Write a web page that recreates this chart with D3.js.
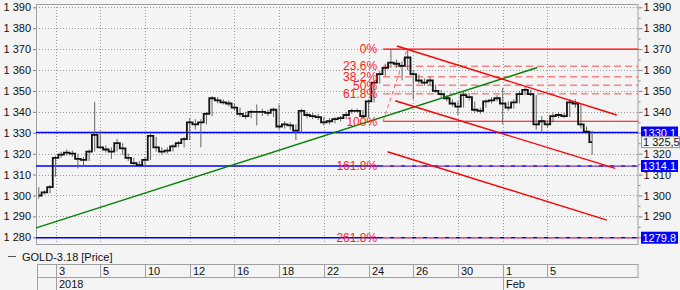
<!DOCTYPE html>
<html><head><meta charset="utf-8">
<script src="https://cdn.jsdelivr.net/npm/d3@7/dist/d3.min.js"></script>
<style>
html,body{margin:0;padding:0;background:#f4f4f4;}
svg{display:block;font-family:"Liberation Sans",Arial,sans-serif;}
</style></head><body>
<div id="chart"></div>
<script>
// ---- data ----
const closes = [1300,1301.5,1304,1318,1319.5,1320.5,1320,1317.5,1317,1321,
 1329,1323,1322,1321,1325,1322.5,1318,1315.5,1314.5,1317,
 1328.5,1323,1321,1321.5,1323.5,1325,1327,1335,1334,1335,
 1339,1346.5,1345.5,1344.5,1344,1342,1339,1338,1340,1340,
 1340,1339.5,1341,1333,1334,1333.5,1331,1340.5,1338.5,1338,
 1337.5,1335,1335.5,1336.5,1337,1338.5,1340.5,1340.5,1338,1345,
 1354,1358,1361,1363.5,1363,1362,1366,1358,1355,1354,
 1355,1350,1348.5,1346.5,1344,1342.5,1348,1347,1341,1340.5,
 1345,1345.5,1346.5,1344,1342,1344.5,1348.5,1350.5,1348.5,1334,
 1335.5,1334,1338,1338.5,1338,1344.5,1344,1334,1330.5,1325.5];
const highs = [1304,1302.5,1305,1319,1321,1322,1321.5,1320,1318.5,1322,
 1344.8,1331,1324,1323,1327,1325,1320,1318,1316.5,1318.5,
 1330,1328,1323,1323,1324.5,1326,1328,1337,1336.5,1336.5,
 1340,1347.5,1347,1346,1345.5,1344,1342,1340,1341,1343.5,
 1341.5,1341,1342,1343.5,1335.5,1335,1334,1341.5,1340,1339.5,
 1339,1337.5,1337,1337.5,1338,1340,1341.5,1341.5,1341,1346,
 1355,1359.5,1363,1369.6,1365,1364,1369.5,1360,1358,1356,
 1357,1353,1350.5,1348,1346,1345,1349.5,1349,1345,1342,
 1346,1347,1348,1351.5,1345,1346,1350,1352,1350.5,1348,
 1338,1336,1339.5,1340,1339.5,1346,1346,1344,1333,1331];
const lows = [1298.5,1300.5,1301,1309,1318,1319,1318.5,1313,1314.5,1316.5,
 1321,1322.5,1320.5,1317.5,1321,1319.5,1316.5,1314,1313.5,1313.5,
 1317,1321,1319.5,1320,1321,1323,1323,1326.5,1331.5,1323,
 1334,1338,1344,1343.5,1342.5,1340.5,1337.5,1336.5,1337,1333.5,
 1338,1338,1337.5,1331.5,1332,1331.5,1326.5,1330,1337,1336.5,
 1336,1333.5,1334,1334.5,1335.5,1336.5,1339,1339.5,1336.5,1337.5,
 1344.5,1353.5,1357,1361,1361,1355,1360,1346,1353.5,1352.5,
 1352.5,1349,1347,1345,1342.5,1338.5,1342,1345.5,1339.5,1339,
 1342,1344,1345,1334,1340.5,1341.5,1344,1348,1347.5,1331.5,
 1330,1332.5,1335,1337,1337,1337.5,1342,1332,1329.5,1319.5];
const tickIdx = [3,11,19,27,35,43,51,59,67,75,83,91];
const tickLabels = ["3","5","10","12","16","18","22","24","26","30","1","5"];
const monthLabels = [{idx:3,label:"2018"},{idx:83,label:"Feb"}];
const yTickValues = [1280,1290,1300,1310,1320,1330,1340,1350,1360,1370,1380,1390];
const blueLevels = [1330.1, 1314.1, 1279.8];
const lastPrice = 1325.5;
const fibPercents = [0, 23.6, 38.2, 50, 61.8, 100, 161.8, 261.8];
const fibHigh = 1370, fibLow = 1335.5;
const fibStart = {idx:61.6, low:1335.5, idxHigh:65.9, high:1370};
const greenLine = [[-0.48,1284.5],[89.2,1361.2]];
const redChannel = [
  [[64.07,1371.5],[103.4,1338.5]],
  [[63.77,1345.3],[103.14,1313.0]],
  [[62.39,1320.9],[101.65,1288.2]]
];
const seriesName = "GOLD-3.18 [Price]";

// ---- layout ----
const W=680,H=290;
const L=36,R=638.5,T=4,B=245;
const svg=d3.select("#chart").append("svg").attr("width",W).attr("height",H);
svg.append("rect").attr("width",W).attr("height",H).attr("fill","#f4f4f4");

const x=d3.scaleLinear().domain([-0.5,107.3]).range([L,R]);
const y=d3.scaleLinear().domain([1280,1390]).range([237.3,7.3]);
const fmt=d=>d3.format(",")(d).replace(/,/g," ");

svg.append("clipPath").attr("id","clip").append("rect").attr("x",L).attr("y",T).attr("width",R-L).attr("height",B-T);

// grid
const grid=svg.append("g").attr("stroke","#9a9a9a").attr("stroke-width",1).attr("stroke-dasharray","1,2");
yTickValues.forEach(v=>{grid.append("line").attr("x1",L).attr("x2",R).attr("y1",Math.round(y(v))+0.5).attr("y2",Math.round(y(v))+0.5);});
tickIdx.forEach(i=>{grid.append("line").attr("y1",T).attr("y2",B).attr("x1",Math.round(x(i))+0.5).attr("x2",Math.round(x(i))+0.5);});

// frame
svg.append("rect").attr("x",L+0.5).attr("y",T+0.5).attr("width",R-L-1).attr("height",B-T-1).attr("fill","none").attr("stroke","#a0a0a0");

const g=svg.append("g").attr("clip-path","url(#clip)");

// blue horizontal levels
blueLevels.forEach(v=>{g.append("line").attr("x1",L).attr("x2",R).attr("y1",y(v)).attr("y2",y(v)).attr("stroke","#0000ff").attr("stroke-width",1.5);});

// fib levels
const fibVal=p=>fibHigh-(fibHigh-fibLow)*p/100;
fibPercents.forEach(p=>{
  const solid=(p===0||p===100);
  g.append("line").attr("x1",x(fibStart.idx)).attr("x2",R).attr("y1",y(fibVal(p))).attr("y2",y(fibVal(p)))
   .attr("stroke",solid?"#ff0000":"#ff8080").attr("stroke-width",solid?1.2:1.5)
   .attr("stroke-dasharray",solid?null:"7,4");
});
g.append("line").attr("x1",x(fibStart.idx)).attr("y1",y(fibStart.low)).attr("x2",x(fibStart.idxHigh)).attr("y2",y(fibStart.high))
 .attr("stroke","#ff6060").attr("stroke-width",1).attr("stroke-dasharray","4,3");

// price bars
const bars=g.append("g");
closes.forEach((c,i)=>{
  bars.append("line").attr("x1",x(i)).attr("x2",x(i)).attr("y1",y(highs[i])).attr("y2",y(lows[i])).attr("stroke","#666").attr("stroke-width",1);
});
const line=d3.line().x((d,i)=>x(i)).y(d=>y(d)).curve(d3.curveStep);
g.append("path").datum(closes).attr("d",line).attr("fill","none").attr("stroke","#111").attr("stroke-width",1.8);

// trend lines
g.append("line").attr("x1",x(greenLine[0][0])).attr("y1",y(greenLine[0][1])).attr("x2",x(greenLine[1][0])).attr("y2",y(greenLine[1][1]))
 .attr("stroke","#008000").attr("stroke-width",1.4);
redChannel.forEach(s=>{
  g.append("line").attr("x1",x(s[0][0])).attr("y1",y(s[0][1])).attr("x2",x(s[1][0])).attr("y2",y(s[1][1]))
   .attr("stroke","#ff0000").attr("stroke-width",1.4);
});

// fib labels
fibPercents.forEach(p=>{
  svg.append("text").attr("x",x(fibStart.idx)-6).attr("y",y(fibVal(p))).attr("dy","0.36em")
   .attr("text-anchor","end").attr("font-size",12).attr("fill","#ff1a1a").text(p+"%");
});

// axes (right-side labels hidden under the price boxes are omitted)
const hidden=new Set([1330,1280]);
const yl=svg.append("g").attr("transform",`translate(${L},0)`).call(d3.axisLeft(y).tickValues(yTickValues).tickFormat(fmt).tickSize(3).tickPadding(2));
const yr=svg.append("g").attr("transform",`translate(${R},0)`).call(d3.axisRight(y).tickValues(yTickValues).tickFormat(d=>hidden.has(d)?"":fmt(d)).tickSize(4).tickPadding(1));
const yrm=svg.append("g").attr("transform",`translate(${R},0)`).call(d3.axisRight(y).tickValues(yTickValues.slice(0,-1).map(v=>v+5)).tickFormat("").tickSize(2));
[yl,yr,yrm].forEach(a=>{a.select(".domain").remove();a.selectAll("line").attr("stroke","#808080");a.selectAll("text").attr("font-size",11).attr("fill","#111").attr("font-family","'Liberation Sans',Arial,sans-serif");});

// right side price boxes
blueLevels.forEach(v=>{
  const yy=y(v);
  svg.append("rect").attr("x",641).attr("y",yy-6).attr("width",37).attr("height",12).attr("fill","#0000ff");
  svg.append("text").attr("x",642.5).attr("y",yy).attr("dy","0.36em").attr("font-size",11).attr("fill","#fff").text(v.toFixed(1));
});
{
  const yy=y(lastPrice);
  svg.append("rect").attr("x",641.5).attr("y",yy-5.5).attr("width",38).attr("height",11).attr("fill","#f4f4f4").attr("stroke","#999");
  svg.append("text").attr("x",643).attr("y",yy).attr("dy","0.36em").attr("font-size",11).attr("fill","#111").text(fmt(Math.floor(lastPrice))+","+String(lastPrice).split(".")[1]);
}

// legend
svg.append("line").attr("x1",8).attr("x2",16).attr("y1",256.5).attr("y2",256.5).attr("stroke","#555").attr("stroke-width",1);
svg.append("text").attr("x",22).attr("y",257).attr("dy","0.36em").attr("font-size",11).attr("fill","#111").text(seriesName);

// date table
const tb=svg.append("g").attr("stroke","#a0a0a0").attr("stroke-width",1);
const x0=37, rowTop=264.5, rowMid=277.5, rowBot=290.5;
tb.append("line").attr("x1",x0).attr("x2",R).attr("y1",rowTop).attr("y2",rowTop);
tb.append("line").attr("x1",x0).attr("x2",R).attr("y1",rowMid).attr("y2",rowMid);
tb.append("line").attr("x1",x0+0.5).attr("x2",x0+0.5).attr("y1",rowTop).attr("y2",rowBot);
tb.append("line").attr("x1",R-0.5).attr("x2",R-0.5).attr("y1",rowTop).attr("y2",rowMid);
tickIdx.forEach(i=>{const xx=Math.round(x(i))+0.5;tb.append("line").attr("x1",xx).attr("x2",xx).attr("y1",rowTop).attr("y2",rowMid);});
monthLabels.forEach(m=>{const xx=Math.round(x(m.idx))+0.5;tb.append("line").attr("x1",xx).attr("x2",xx).attr("y1",rowMid).attr("y2",rowBot);});
tickIdx.forEach((i,k)=>{svg.append("text").attr("x",Math.round(x(i))+3).attr("y",271.5).attr("dy","0.36em").attr("font-size",11).attr("fill","#111").text(tickLabels[k]);});
monthLabels.forEach(m=>{svg.append("text").attr("x",Math.round(x(m.idx))+3).attr("y",284.5).attr("dy","0.36em").attr("font-size",11).attr("fill","#111").text(m.label);});
</script></body></html>
